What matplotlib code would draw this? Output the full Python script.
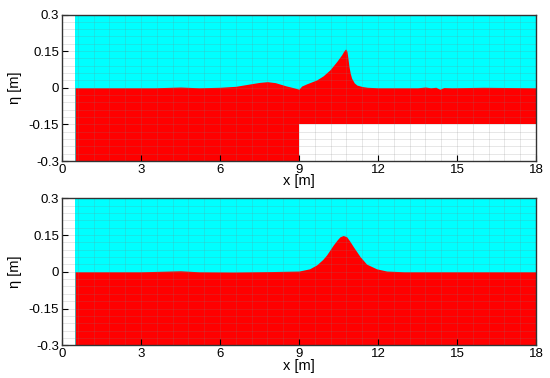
import numpy as np
import matplotlib.pyplot as plt
from matplotlib.ticker import MultipleLocator

plt.rcParams['font.family'] = ['Liberation Sans', 'DejaVu Sans']

# free surface, upper panel
x_top = [0.5, 2.0, 3.5, 4.5, 5.2, 6.0, 6.6, 7.1, 7.5, 7.8, 8.1, 8.5, 8.8, 9.0,
         9.1, 9.29, 9.67, 9.92, 10.18, 10.43, 10.62, 10.7, 10.77, 10.82, 10.86,
         10.9, 10.95, 11.0, 11.1, 11.2, 11.4, 11.6, 12.0, 13.5, 13.8, 14.0,
         14.2, 14.35, 14.5, 14.8, 16.0, 18.0]
eta_top = [0.0, 0.0, 0.0, 0.003, 0.0, 0.002, 0.006, 0.015, 0.022, 0.025, 0.021,
           0.008, 0.0, -0.006, 0.007, 0.016, 0.032, 0.049, 0.074, 0.107, 0.135,
           0.150, 0.159, 0.150, 0.120, 0.086, 0.058, 0.039, 0.020, 0.011, 0.005,
           0.002, 0.0, 0.0, 0.003, 0.0, 0.002, -0.006, 0.001, 0.0, 0.002, 0.0]

# submerged step, upper panel
x_step = [9.0, 18.0]
y_step = [-0.15, -0.15]

# free surface, lower panel
x_bot = [0.5, 3.0, 4.5, 5.2, 6.5, 8.0, 9.0, 9.4, 9.67, 9.9, 10.05, 10.3, 10.45,
         10.56, 10.68, 10.81, 10.93, 11.06, 11.32, 11.57, 11.95, 12.33, 13.0, 18.0]
eta_bot = [0.0, 0.0, 0.004, 0.0, -0.001, 0.001, 0.003, 0.012, 0.028, 0.05, 0.069,
           0.109, 0.130, 0.143, 0.148, 0.143, 0.125, 0.103, 0.062, 0.031, 0.012,
           0.003, 0.0, 0.0]

x_start = 0.5
xticks = [0, 3, 6, 9, 12, 15, 18]
yticks = [-0.3, -0.15, 0, 0.15, 0.3]
yticklabels = ['-0.3', '-0.15', '0', '0.15', '0.3']


def draw(ax, x, eta, step=None):
    ax.fill_between([x_start, 18], -0.3, 0.3, color='#00ffff', lw=0, zorder=1)
    ax.fill_between(x, -0.3, eta, color='#ff0000', lw=0, zorder=1.1)
    if step is not None:
        ax.fill_between(step[0], -0.3, step[1], color='white', lw=0, zorder=1.2)
    ax.set_xlim(0, 18)
    ax.set_ylim(-0.3, 0.3)
    ax.set_xticks(xticks)
    ax.set_yticks(yticks)
    ax.set_yticklabels(yticklabels)
    ax.xaxis.set_minor_locator(MultipleLocator(0.6))
    ax.yaxis.set_minor_locator(MultipleLocator(0.03))
    ax.set_axisbelow(False)
    ax.grid(which='both', color='#808080', alpha=0.22, lw=0.6)
    ax.tick_params(which='major', direction='in', length=4, labelsize=9.5,
                   pad=2, top=False, right=False)
    ax.tick_params(which='minor', length=0)
    for s in ax.spines.values():
        s.set_linewidth(1.0)
        s.set_color('#333333')
        s.set_zorder(5)
    ax.set_xlabel('x [m]', fontsize=10.5, labelpad=-1)
    ax.set_ylabel('η [m]', fontsize=10.5, labelpad=5)


fig = plt.figure(figsize=(5.5, 3.78), dpi=100)
ax1 = fig.add_axes([0.1127, 0.574, 0.8618, 0.3876])
ax2 = fig.add_axes([0.1127, 0.0865, 0.8618, 0.389])

draw(ax1, x_top, eta_top, step=(x_step, y_step))
draw(ax2, x_bot, eta_bot)

fig.savefig('out.png', dpi=100)
